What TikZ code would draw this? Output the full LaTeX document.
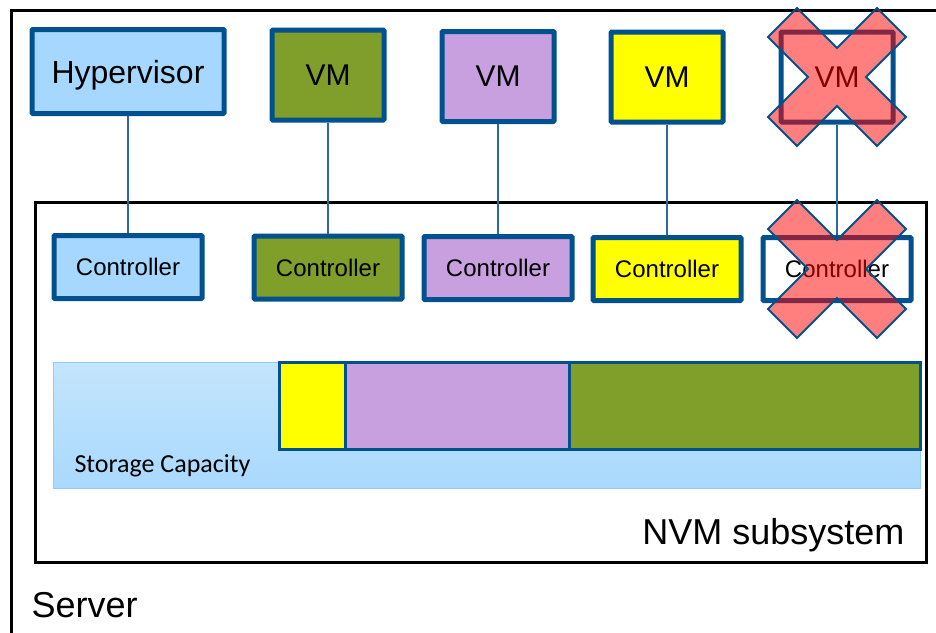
\documentclass[tikz,border=0pt]{standalone}
\usepackage{fontspec}
\setmainfont{Liberation Sans}
\newfontfamily\calibrifont{Carlito}
\definecolor{edgeblue}{HTML}{00518E}
\definecolor{linkblue}{HTML}{2A6A9E}
\definecolor{hypblue}{HTML}{A6D8FF}
\definecolor{vmgreen}{HTML}{7F9F2A}
\definecolor{vmpurple}{HTML}{C8A0E0}
\definecolor{vmyellow}{HTML}{FFFF00}
\definecolor{captop}{HTML}{C4E5FC}
\definecolor{capbottom}{HTML}{A9D9FD}
\definecolor{capedge}{HTML}{8DCBF8}

\begin{document}
\begin{tikzpicture}[x=1pt, y=-1pt,
		box/.style={draw=edgeblue, line width=5pt, rounded corners=1pt, inner sep=0pt, align=center},
		topbox/.style={box, minimum width=112pt, minimum height=90pt, font=\fontsize{30}{36}\selectfont},
		ctrlbox/.style={box, minimum width=148pt, minimum height=63pt, font=\fontsize{24}{29}\selectfont},
		link/.style={draw=linkblue, line width=1.6pt},
		segment/.style={draw=edgeblue, line width=3pt},
		xmark/.style={fill=red, fill opacity=0.5, draw=edgeblue, line width=2pt, line join=miter}]
	\useasboundingbox (0,0) rectangle (936,632);
	\clip (0,0) rectangle (936,632);
	% server and subsystem frames
	\draw[line width=3pt] (11,10) rectangle (990,700);
	\draw[line width=3pt] (35,202) rectangle (926,562);
	\node[anchor=base west, font=\fontsize{36}{43}\selectfont] (server) at (28,617) {Server};
	\node[anchor=base east, font=\fontsize{36}{43}\selectfont] (nvm) at (908,544) {NVM subsystem};
	% storage capacity
	\draw[top color=captop, bottom color=capbottom, draw=capedge, line width=1pt] (53,362) rectangle (920,488);
	\draw[segment, fill=vmyellow] (279,362) rectangle (345,449);
	\draw[segment, fill=vmpurple] (345,362) rectangle (569,449);
	\draw[segment, fill=vmgreen] (569,362) rectangle (920,449);
	\node[anchor=base west, font=\calibrifont\fontsize{26}{31}\selectfont] (cap) at (71,472) {Storage Capacity};
	% hosts
	\node[topbox, fill=hypblue, minimum width=192pt, minimum height=84pt, text depth=0pt,
		font=\fontsize{32}{38}\selectfont] (hyp) at (128,71.5) {Hypervisor};
	\node[topbox, fill=vmgreen] (vma) at (328,75) {VM};
	\node[topbox, fill=vmpurple] (vmb) at (498,76.5) {VM};
	\node[topbox, fill=vmyellow] (vmc) at (667,77) {VM};
	\node[topbox, fill=white] (vmd) at (837,77) {VM};
	% controllers
	\node[ctrlbox, fill=hypblue] (ca) at (128,267) {Controller};
	\node[ctrlbox, fill=vmgreen] (cb) at (328,267.5) {Controller};
	\node[ctrlbox, fill=vmpurple] (cc) at (498,268) {Controller};
	\node[ctrlbox, fill=vmyellow] (cd) at (667,269) {Controller};
	\node[ctrlbox, fill=white] (ce) at (837,269) {Controller};
	\foreach \h/\c in {hyp/ca, vma/cb, vmb/cc, vmc/cd, vmd/ce}
		\draw[link] (\h) -- (\c);
	% removed vm
	\foreach \n in {vmd, ce}
		\draw[xmark, shift={(\n.center)}] (-69,-40) -- (-40,-69) -- (0,-29) -- (40,-69) -- (69,-40) -- (29,0)
			-- (69,40) -- (40,69) -- (0,29) -- (-40,69) -- (-69,40) -- (-29,0) -- cycle;
\end{tikzpicture}
\end{document}
